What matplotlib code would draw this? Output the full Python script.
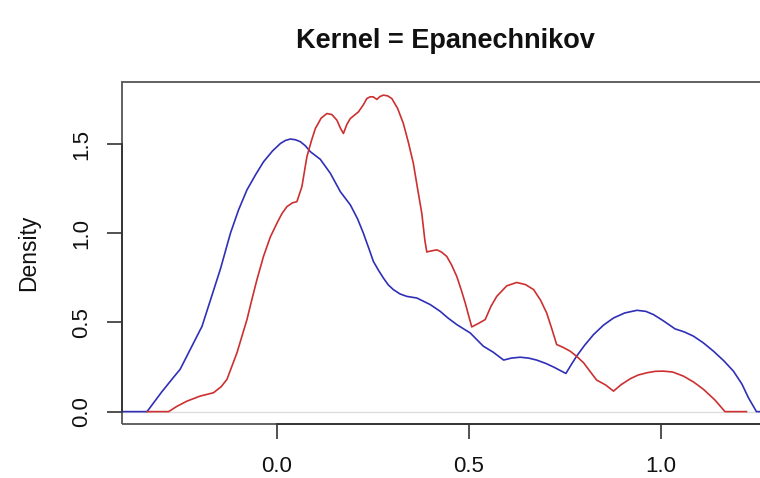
import matplotlib
matplotlib.use("Agg")
import matplotlib.pyplot as plt
from matplotlib.patches import Rectangle

plt.rcParams['font.family'] = ['Liberation Sans', 'DejaVu Sans']

title = "Kernel = Epanechnikov"
ylabel = "Density"
xticks = [0.0, 0.5, 1.0, 1.5]
yticks = [0.0, 0.5, 1.0, 1.5]

blue_x = [-0.42, -0.338, -0.30, -0.27, -0.252, -0.195, -0.147, -0.121, -0.100, -0.078,
          -0.055, -0.035, -0.012, 0.009, 0.022, 0.035, 0.048, 0.061, 0.074, 0.087,
          0.113, 0.139, 0.165, 0.191, 0.210, 0.225, 0.240, 0.251, 0.265, 0.277,
          0.290, 0.303, 0.320, 0.338, 0.364, 0.399, 0.425, 0.445, 0.468, 0.503,
          0.537, 0.563, 0.590, 0.610, 0.633, 0.655, 0.676, 0.700, 0.720, 0.752,
          0.765, 0.780, 0.800, 0.824, 0.850, 0.876, 0.905, 0.937, 0.960, 0.980,
          1.005, 1.036, 1.060, 1.084, 1.110, 1.136, 1.163, 1.188, 1.210, 1.227,
          1.248, 1.30]
blue_y = [0.0, 0.0, 0.11, 0.19, 0.237, 0.478, 0.800, 1.000, 1.130, 1.243,
          1.330, 1.400, 1.460, 1.503, 1.520, 1.528, 1.524, 1.513, 1.490, 1.457,
          1.414, 1.336, 1.233, 1.159, 1.080, 1.000, 0.910, 0.842, 0.790, 0.749,
          0.710, 0.684, 0.660, 0.646, 0.637, 0.600, 0.562, 0.525, 0.488, 0.441,
          0.367, 0.333, 0.289, 0.300, 0.305, 0.300, 0.289, 0.270, 0.250, 0.214,
          0.260, 0.311, 0.370, 0.432, 0.485, 0.525, 0.553, 0.568, 0.562, 0.544,
          0.510, 0.464, 0.447, 0.423, 0.385, 0.339, 0.285, 0.227, 0.155, 0.078,
          0.0, 0.0]

red_x = [-0.338, -0.282, -0.260, -0.234, -0.200, -0.165, -0.145, -0.130, -0.104, -0.078,
         -0.065, -0.052, -0.035, -0.017, 0.000, 0.013, 0.026, 0.040, 0.052, 0.065,
         0.078, 0.090, 0.100, 0.115, 0.130, 0.143, 0.156, 0.165, 0.173, 0.182,
         0.191, 0.212, 0.225, 0.234, 0.243, 0.251, 0.260, 0.268, 0.277, 0.288,
         0.299, 0.314, 0.329, 0.342, 0.355, 0.366, 0.377, 0.385, 0.390, 0.400,
         0.416, 0.428, 0.442, 0.455, 0.468, 0.480, 0.490, 0.500, 0.507, 0.525,
         0.542, 0.557, 0.572, 0.598, 0.624, 0.647, 0.668, 0.686, 0.702, 0.716,
         0.728, 0.745, 0.763, 0.780, 0.798, 0.815, 0.832, 0.855, 0.876, 0.895,
         0.920, 0.940, 0.963, 0.985, 1.006, 1.030, 1.058, 1.085, 1.110, 1.140,
         1.166, 1.222]
red_y = [0.0, 0.0, 0.030, 0.059, 0.087, 0.106, 0.140, 0.181, 0.330, 0.516,
         0.630, 0.740, 0.870, 0.980, 1.056, 1.110, 1.149, 1.170, 1.177, 1.261,
         1.429, 1.520, 1.587, 1.645, 1.671, 1.665, 1.634, 1.590, 1.559, 1.610,
         1.643, 1.680, 1.720, 1.755, 1.765, 1.764, 1.750, 1.766, 1.774, 1.770,
         1.755, 1.700, 1.615, 1.510, 1.392, 1.250, 1.112, 0.960, 0.895, 0.900,
         0.907, 0.895, 0.870, 0.820, 0.758, 0.680, 0.609, 0.530, 0.475, 0.495,
         0.516, 0.590, 0.646, 0.705, 0.724, 0.712, 0.684, 0.625, 0.553, 0.460,
         0.376, 0.360, 0.339, 0.310, 0.274, 0.225, 0.177, 0.150, 0.115, 0.150,
         0.185, 0.205, 0.218, 0.226, 0.227, 0.222, 0.199, 0.165, 0.125, 0.065,
         0.0, 0.0]

W, H = 760, 478
fig = plt.figure(figsize=(W / 100, H / 100), dpi=100)
left_px, right_px, top_px, bot_px = 121.5, 773.0, 82.3, 424.3
ax = fig.add_axes([left_px / W, 1 - bot_px / H, (right_px - left_px) / W, (bot_px - top_px) / H])

ax.axhline(0, color='#dddddd', lw=1.0, zorder=1)
ax.plot(blue_x, blue_y, color='#2f2fb8', lw=1.2, zorder=3, solid_joinstyle='round')
ax.plot(red_x, red_y, color='#cc3030', lw=1.2, zorder=3, solid_joinstyle='round')

for s in ax.spines.values():
    s.set_visible(False)
ax.add_patch(Rectangle((0, 0), 1, 1, transform=ax.transAxes, fill=False,
                       edgecolor='#555555', lw=1.3, zorder=5, clip_on=False))
ax.spines['bottom'].set_visible(True)
ax.spines['left'].set_visible(True)
ax.spines['bottom'].set_bounds(xticks[0], xticks[-1])
ax.spines['left'].set_bounds(yticks[0], yticks[-1])
for k in ('bottom', 'left'):
    ax.spines[k].set_color('#333333')
    ax.spines[k].set_linewidth(1.3)
    ax.spines[k].set_zorder(6)

ax.set_xticks(xticks)
ax.set_xticklabels([f"{v:.1f}" for v in xticks])
ax.set_yticks(yticks)
ax.set_yticklabels([f"{v:.1f}" for v in yticks], rotation=90, va='center')
ax.tick_params(axis='both', length=10.8, width=1.2, color='#333333', labelsize=16, labelcolor='#111111')
ax.tick_params(axis='x', pad=12)
ax.tick_params(axis='y', pad=10)
ax.set_xlim(-0.4045, 1.291)
ax.set_ylim(-0.071, 1.846)

fig.text(29 / W, 1 - 253 / H, ylabel, rotation=90, ha='center', va='center', fontsize=16.5, color='#111111')
fig.text(445 / W, 1 - 41 / H, title, ha='center', va='center', fontsize=19.5, fontweight='bold', color='#111111')

fig.savefig("out.png", dpi=100)
